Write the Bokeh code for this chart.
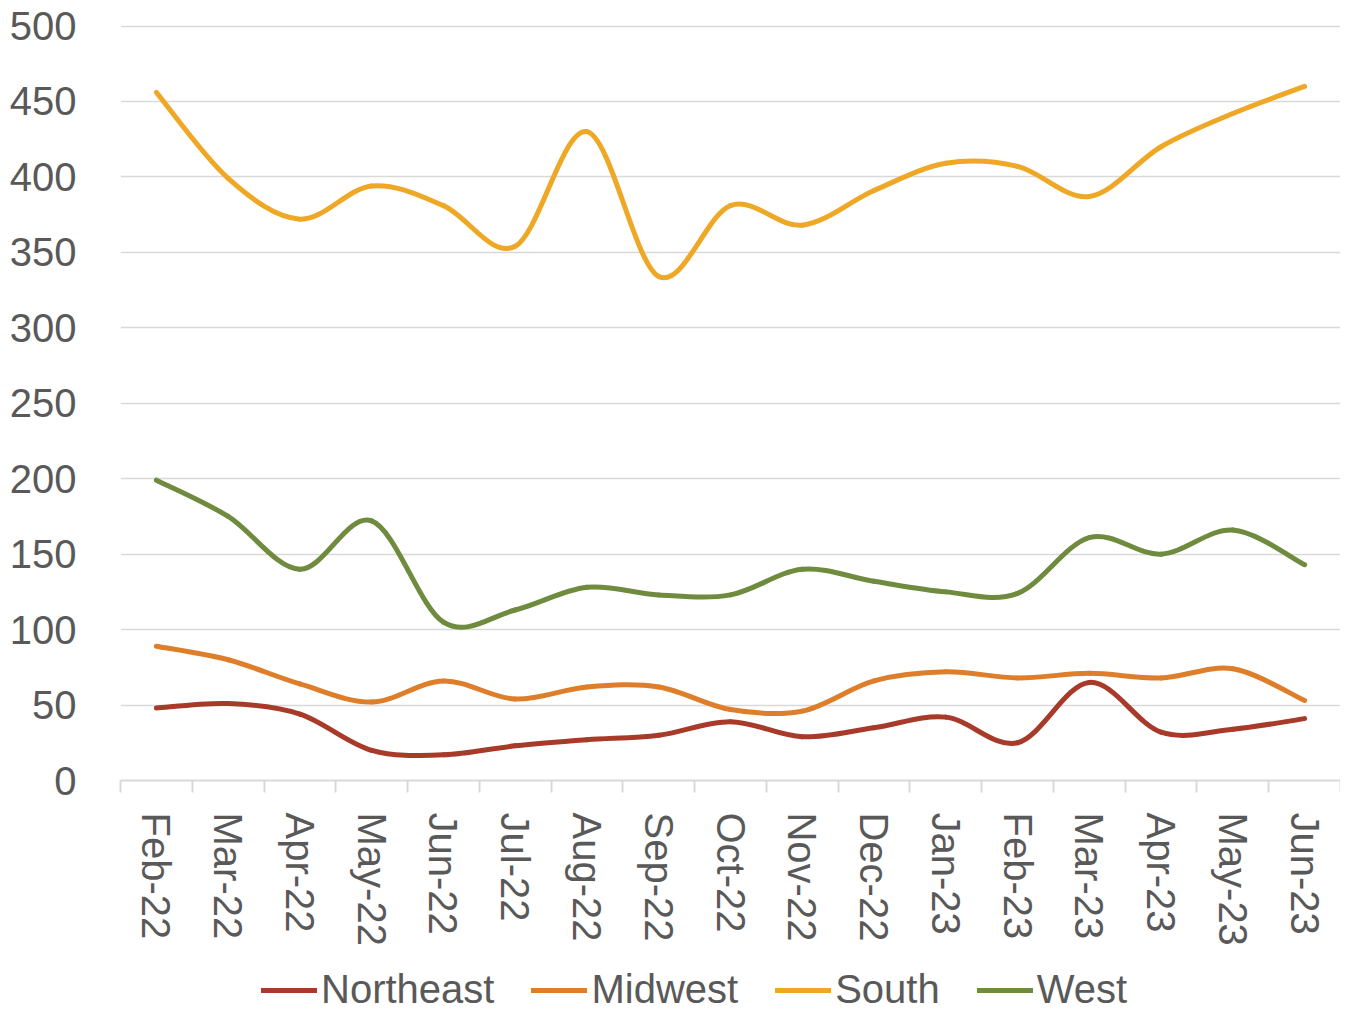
from bokeh.plotting import figure
from bokeh.layouts import column
from bokeh.models import Range1d, FixedTicker, Legend, LegendItem, ColumnDataSource
from bokeh.embed import file_html
from bokeh.resources import INLINE

months = ["Feb-22", "Mar-22", "Apr-22", "May-22", "Jun-22", "Jul-22", "Aug-22", "Sep-22",
          "Oct-22", "Nov-22", "Dec-22", "Jan-23", "Feb-23", "Mar-23", "Apr-23", "May-23", "Jun-23"]
northeast = [48, 51, 44, 20, 17, 23, 27, 30, 39, 29, 35, 42, 25, 65, 32, 34, 41]
midwest = [89, 80, 64, 52, 66, 54, 62, 62, 47, 46, 66, 72, 68, 71, 68, 74, 53]
south = [456, 399, 372, 394, 381, 354, 430, 334, 381, 368, 391, 409, 407, 387, 420, 442, 460]
west = [199, 175, 140, 172, 105, 113, 128, 123, 123, 140, 132, 125, 124, 161, 150, 166, 143]

series = [("Northeast", northeast, "#A83A2A"),
          ("Midwest", midwest, "#DF7E2A"),
          ("South", south, "#EEA826"),
          ("West", west, "#6F8B3E")]

FONT = "Liberation Sans"
FS = "40px"
TXT = "#595959"
GRID = "#D9D9D9"


def bezier_source(vals):
    n = len(vals)
    xs = list(range(n))
    d = {k: [] for k in ["x0", "y0", "x1", "y1", "cx0", "cy0", "cx1", "cy1"]}
    for i in range(n - 1):
        a = max(i - 1, 0)
        b = min(i + 2, n - 1)
        d["x0"].append(xs[i]); d["y0"].append(vals[i])
        d["x1"].append(xs[i + 1]); d["y1"].append(vals[i + 1])
        d["cx0"].append(xs[i] + (xs[i + 1] - xs[a]) / 6)
        d["cy0"].append(vals[i] + (vals[i + 1] - vals[a]) / 6)
        d["cx1"].append(xs[i + 1] - (xs[b] - xs[i]) / 6)
        d["cy1"].append(vals[i + 1] - (vals[b] - vals[i]) / 6)
    return ColumnDataSource(d)


p = figure(width=1340, height=948, output_backend="svg", toolbar_location=None,
           x_range=Range1d(-0.5, len(months) - 0.5), y_range=Range1d(0, 501),
           min_border_left=120, min_border_right=0, min_border_top=24, min_border_bottom=168)
p.outline_line_color = None
p.background_fill_color = "white"

p.xgrid.visible = False
p.ygrid.ticker = FixedTicker(ticks=list(range(0, 501, 50)))
p.ygrid.grid_line_color = GRID
p.ygrid.grid_line_width = 1.5

# y axis
p.yaxis.ticker = FixedTicker(ticks=list(range(0, 501, 50)))
p.yaxis.axis_line_color = None
p.yaxis.major_tick_line_color = None
p.yaxis.minor_tick_line_color = None
p.yaxis.major_tick_out = 0
p.yaxis.major_tick_in = 0
p.yaxis.major_label_standoff = 44
p.yaxis.major_label_text_font = FONT
p.yaxis.major_label_text_font_size = FS
p.yaxis.major_label_text_color = TXT

# x axis
p.xaxis.ticker = FixedTicker(ticks=list(range(len(months))),
                             minor_ticks=[i - 0.5 for i in range(len(months) + 1)])
p.xaxis.major_label_overrides = {i: m for i, m in enumerate(months)}
p.xaxis.major_label_orientation = "vertical"
p.xaxis.axis_line_color = GRID
p.xaxis.axis_line_width = 2
p.xaxis.major_tick_line_color = None
p.xaxis.major_tick_out = 0
p.xaxis.major_tick_in = 0
p.xaxis.minor_tick_line_color = GRID
p.xaxis.minor_tick_line_width = 2
p.xaxis.minor_tick_out = 12
p.xaxis.minor_tick_in = 0
p.xaxis.major_label_standoff = 20
p.xaxis.major_label_text_font = FONT
p.xaxis.major_label_text_font_size = FS
p.xaxis.major_label_text_color = TXT

for name, vals, color in series:
    p.bezier(x0="x0", y0="y0", x1="x1", y1="y1", cx0="cx0", cy0="cy0", cx1="cx1", cy1="cy1",
             source=bezier_source(vals), line_color=color, line_width=5, line_cap="round")

# legend strip below the chart (its own small figure, series lines are outside its view)
lg = figure(width=1340, height=64, output_backend="svg", toolbar_location=None,
            x_range=Range1d(0, 1), y_range=Range1d(-2, -1),
            min_border_left=0, min_border_right=0, min_border_top=0, min_border_bottom=0)
lg.axis.visible = False
lg.grid.visible = False
lg.outline_line_color = None

items = []
for name, vals, color in series:
    r = lg.line(x=list(range(len(vals))), y=vals, line_color=color, line_width=5, line_cap="round")
    items.append(LegendItem(label=name, renderers=[r]))

legend = Legend(items=items, orientation="horizontal", location=(141, 0),
                label_text_font=FONT, label_text_font_size=FS, label_text_color=TXT,
                glyph_width=56, glyph_height=30, label_height=30,
                label_standoff=4, spacing=37,
                padding=0, margin=0, border_line_color=None, background_fill_alpha=0)
lg.add_layout(legend)

layout = column(p, lg, spacing=0)
open("out.html", "w").write(file_html(layout, INLINE))
